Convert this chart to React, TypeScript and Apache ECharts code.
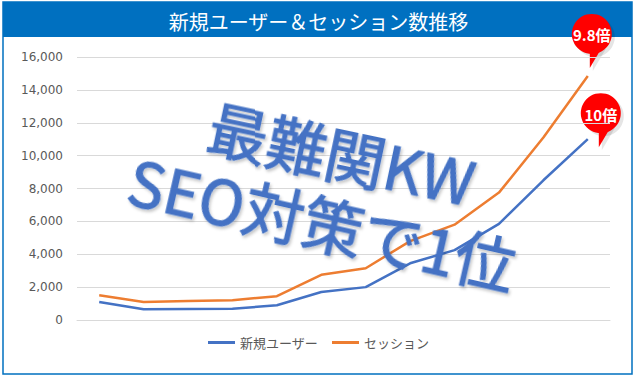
import React, { useEffect, useRef } from "react";
import * as echarts from "echarts";

const categories = ["1月", "2月", "3月", "4月", "5月", "6月", "7月", "8月", "9月", "10月", "11月", "12月"];
const newUsers = [1100, 650, 670, 680, 900, 1700, 2000, 3450, 4250, 5850, 8500, 11000];
const sessions = [1500, 1100, 1150, 1200, 1450, 2750, 3150, 4800, 5800, 7750, 11100, 14850];
const seriesNames = ["新規ユーザー", "セッション"];
const growthLabels = ["10倍", "9.8倍"];
const yMin = 0;
const yMax = 16000;
const yStep = 2000;
const titleText = "新規ユーザー＆セッション数推移";
const overlayLine1 = "最難関KW";
const overlayLine2 = "SEO対策で1位";

function balloonGroup(px: number, py: number, dx: number, dy: number, label: string) {
  const r = 20;
  const tail = [
    [-2, 34],
    [-2, 12],
    [11, 12],
  ];
  return {
    type: "group",
    x: px + dx,
    y: py + dy,
    z: 50,
    children: [
      {
        type: "circle",
        x: 3,
        y: 3,
        shape: { cx: 0, cy: 0, r },
        style: { fill: "rgba(0,0,0,0.10)" },
      },
      {
        type: "polygon",
        x: 3,
        y: 3,
        shape: { points: tail },
        style: { fill: "rgba(0,0,0,0.10)" },
      },
      {
        type: "circle",
        shape: { cx: 0, cy: 0, r },
        style: { fill: "#FF0000" },
      },
      {
        type: "polygon",
        shape: { points: tail },
        style: { fill: "#FF0000" },
      },
      {
        type: "text",
        x: 0,
        y: 1,
        style: {
          text: label,
          align: "center",
          verticalAlign: "middle",
          fill: "#FFFFFF",
          font: "bold 15px 'Noto Sans CJK JP'",
        },
      },
    ],
  };
}

export default function App() {
  const ref = useRef<HTMLDivElement>(null);
  useEffect(() => {
    if (!ref.current) return;
    const chart = echarts.init(ref.current, undefined, { renderer: "svg" });
    const last = categories.length - 1;
    const overlayStyle = (text: string, size: number) => ({
      text,
      align: "center",
      verticalAlign: "middle",
      fill: "#4472C4",
      font: `normal ${size}px 'Noto Sans CJK JP'`,
      stroke: "#4472C4",
      lineWidth: 1.2,
      textShadowColor: "rgba(0,0,0,0.22)",
      textShadowBlur: 3,
      textShadowOffsetX: 2,
      textShadowOffsetY: 2,
    });
    const baseGraphic: any[] = [
      {
        type: "rect",
        z: -10,
        shape: { x: 3, y: 2, width: 629, height: 35 },
        style: { fill: "#0070C0" },
      },
      {
        type: "rect",
        z: -10,
        shape: { x: 3, y: 2, width: 629, height: 372 },
        style: { fill: "none", stroke: "#0070C0", lineWidth: 1.5 },
      },
      {
        type: "text",
        z: 100,
        x: 342,
        y: 152,
        rotation: -0.21,
        style: overlayStyle(overlayLine1, 60),
      },
      {
        type: "text",
        z: 100,
        x: 323,
        y: 221,
        rotation: -0.225,
        style: overlayStyle(overlayLine2, 61),
      },
    ];
    chart.setOption({
      animation: false,
      backgroundColor: "#FFFFFF",
      title: {
        text: titleText,
        left: "center",
        top: 6,
        textStyle: {
          color: "#FFFFFF",
          fontSize: 20,
          fontWeight: "normal",
          fontFamily: "Noto Sans CJK JP",
        },
      },
      graphic: baseGraphic,
      legend: {
        data: seriesNames,
        bottom: 24,
        left: "center",
        icon: "rect",
        itemWidth: 27,
        itemHeight: 3,
        itemGap: 14,
        textStyle: {
          color: "#595959",
          fontSize: 13,
          fontFamily: "Noto Sans CJK JP",
        },
      },
      grid: { left: 77, right: 27, top: 57, bottom: 58, containLabel: false },
      xAxis: {
        type: "category",
        data: categories,
        boundaryGap: true,
        axisLine: { show: true, lineStyle: { color: "#D9D9D9" } },
        axisTick: { show: false },
        axisLabel: { show: false },
      },
      yAxis: {
        type: "value",
        min: yMin,
        max: yMax,
        interval: yStep,
        axisLine: { show: false },
        axisTick: { show: false },
        splitLine: { lineStyle: { color: "#D9D9D9", width: 1 } },
        axisLabel: {
          color: "#595959",
          fontSize: 12,
          fontFamily: "DejaVu Sans",
          margin: 14,
          formatter: (v: number) => v.toLocaleString("en-US"),
        },
      },
      series: [
        {
          name: seriesNames[0],
          type: "line",
          data: newUsers,
          showSymbol: false,
          symbol: "none",
          lineStyle: { color: "#4472C4", width: 2.5 },
          itemStyle: { color: "#4472C4" },
        },
        {
          name: seriesNames[1],
          type: "line",
          data: sessions,
          showSymbol: false,
          symbol: "none",
          lineStyle: { color: "#ED7D31", width: 2.5 },
          itemStyle: { color: "#ED7D31" },
        },
      ],
    });
    const pBlue = chart.convertToPixel({ seriesIndex: 0 }, [last, newUsers[last]]) as number[];
    const pOrange = chart.convertToPixel({ seriesIndex: 1 }, [last, sessions[last]]) as number[];
    chart.setOption({
      graphic: [
        ...baseGraphic,
        balloonGroup(pBlue[0], pBlue[1], 13, -26, growthLabels[0]),
        balloonGroup(pOrange[0], pOrange[1], 4, -42, growthLabels[1]),
      ],
    });
    return () => chart.dispose();
  }, []);
  return (
    <div
      ref={ref}
      style={{ position: "absolute", left: 0, top: 0, width: 637, height: 378 }}
    />
  );
}
